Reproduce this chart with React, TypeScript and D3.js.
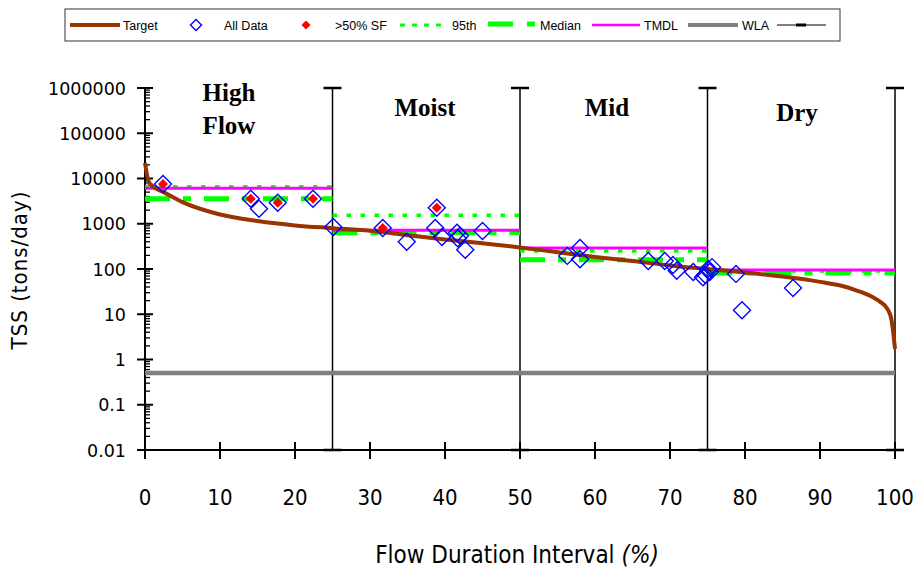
import React from "react";
import * as d3 from "d3";

const W = 913, H = 573;

const targetCurve: [number, number][] = [
  [0, 22000], [0.5, 8500], [1, 6800], [2.5, 5000], [5, 3000], [10, 1600], [15, 1150],
  [20, 920], [25, 800], [30, 700], [35, 560], [40, 450], [45, 370], [50, 300], [55, 235],
  [60, 185], [65, 150], [70, 120], [75, 100], [80, 84], [85, 68], [90, 52], [93, 42],
  [95, 33], [97, 24], [98, 19], [99, 13], [99.5, 8], [99.8, 3.5], [100, 1.7],
];

const zoneBounds = [0, 25, 50, 75, 100];
const zoneNames = [["High", "Flow"], ["Moist"], ["Mid"], ["Dry"]];
const tmdl = [6100, 720, 290, 95];
const p95 = [6600, 1550, 250, 90];
const median = [3550, 630, 160, 82];
const wla = 0.5;

const allData: [number, number][] = [
  [2.4, 7600], [14.1, 3550], [15.2, 2150], [17.7, 2900], [22.4, 3550], [25.1, 850],
  [31.7, 810], [34.9, 400], [38.9, 2250], [38.7, 810], [39.6, 510], [41.6, 630],
  [41.7, 480], [42.0, 540], [42.7, 265], [45.0, 690],
  [56.3, 195], [58.0, 290], [58.0, 165], [67.1, 150], [69.3, 150], [70.4, 123],
  [70.9, 92], [73.1, 86], [74.4, 66], [75.1, 100], [75.6, 110], [75.3, 86],
  [74.7, 75], [78.8, 78], [79.6, 12.3], [86.4, 38],
];
const sfData: [number, number][] = [
  [2.4, 7600], [14.1, 3550], [17.7, 2900], [22.4, 3550], [31.7, 810], [38.9, 2250],
];

const xTicks = [0, 10, 20, 30, 40, 50, 60, 70, 80, 90, 100];
const yTicks = [0.01, 0.1, 1, 10, 100, 1000, 10000, 100000, 1000000];

const legendItems = ["Target", "All Data", ">50% SF", "95th", "Median", "TMDL", "WLA"];

const x = d3.scaleLinear().domain([0, 100]).range([145, 895]);
const y = d3.scaleLog().domain([0.01, 1000000]).range([450, 88]);

const narrow = "'Liberation Sans Narrow', 'DejaVu Sans Condensed', 'Arial Narrow', sans-serif";
const tahoma = "'DejaVu Sans', Verdana, sans-serif";

function diamond(cx: number, cy: number, r: number) {
  return `M${cx},${cy - r}L${cx + r},${cy}L${cx},${cy + r}L${cx - r},${cy}Z`;
}

export default function App() {
  const line = d3.line<[number, number]>().x(d => x(d[0])).y(d => y(d[1])).curve(d3.curveMonotoneX);
  const minor: number[] = [];
  for (let e = -2; e < 6; e++) for (let k = 2; k <= 9; k++) minor.push(k * Math.pow(10, e));

  return (
    <svg width={W} height={H} style={{ position: "absolute", left: 0, top: 0, background: "#fff" }}>
      {/* Legend */}
      <rect x={65} y={9} width={775} height={32} fill="#fff" stroke="#333" strokeWidth={1} />
      <g fontFamily="'Liberation Sans', Arial, sans-serif" fontSize={12.5} fill="#000">
        <line x1={70} x2={120} y1={25} y2={25} stroke="#993300" strokeWidth={4} />
        <text x={123} y={29.5}>{legendItems[0]}</text>
        <path d={diamond(196, 25, 5.5)} fill="none" stroke="#0000FF" strokeWidth={1.4} />
        <text x={224} y={29.5}>{legendItems[1]}</text>
        <path d={diamond(306, 25, 4.5)} fill="#FF0000" />
        <text x={335} y={29.5}>{legendItems[2]}</text>
        <line x1={400} x2={447} y1={25} y2={25} stroke="#00FF00" strokeWidth={3} strokeDasharray="5 7" />
        <text x={452} y={29.5}>{legendItems[3]}</text>
        <line x1={488} x2={536} y1={24} y2={24} stroke="#00FF00" strokeWidth={5} strokeDasharray="25 14 8 13" />
        <text x={540} y={29.5}>{legendItems[4]}</text>
        <line x1={592} x2={640} y1={25} y2={25} stroke="#FF00FF" strokeWidth={2.5} />
        <text x={644} y={29.5}>{legendItems[5]}</text>
        <line x1={688} x2={738} y1={25} y2={25} stroke="#808080" strokeWidth={4} />
        <text x={742} y={29.5}>{legendItems[6]}</text>
        <line x1={777} x2={826} y1={25} y2={25} stroke="#000" strokeWidth={1.2} />
        <line x1={796} x2={806} y1={25} y2={25} stroke="#000" strokeWidth={3} />
      </g>

      {/* Y axis */}
      <line x1={145} x2={145} y1={88} y2={450} stroke="#000" strokeWidth={2} />
      {minor.map((v, i) => (
        <line key={i} x1={145} x2={150} y1={y(v)} y2={y(v)} stroke="#000" strokeWidth={1.3} />
      ))}
      {yTicks.map(v => (
        <g key={v}>
          <line x1={137} x2={153} y1={y(v)} y2={y(v)} stroke="#000" strokeWidth={2} />
          <text x={126} y={y(v) + 6.5} textAnchor="end" fontFamily={tahoma} fontSize={17.5}>
            {String(v)}
          </text>
        </g>
      ))}

      {/* X axis */}
      <line x1={140} x2={903} y1={450} y2={450} stroke="#000" strokeWidth={2} />
      {xTicks.map(v => (
        <g key={v}>
          <line x1={x(v)} x2={x(v)} y1={442} y2={459} stroke="#000" strokeWidth={2} />
          <text x={x(v)} y={505} textAnchor="middle" fontFamily={narrow} fontSize={22}>{v}</text>
        </g>
      ))}

      {/* Zone divider lines with caps */}
      {zoneBounds.slice(1).map(v => (
        <g key={v} stroke="#000">
          <line x1={x(v)} x2={x(v)} y1={88} y2={450} strokeWidth={1.5} />
          <line x1={x(v) - 9} x2={x(v) + 9} y1={88} y2={88} strokeWidth={2.5} />
          <line x1={x(v) - 9} x2={x(v) + 9} y1={450} y2={450} strokeWidth={2.5} />
        </g>
      ))}

      {/* WLA */}
      <line x1={x(0)} x2={x(100)} y1={y(wla)} y2={y(wla)} stroke="#808080" strokeWidth={4.5} />

      {/* Zone horizontal lines */}
      {tmdl.map((_, i) => {
        const x0 = x(zoneBounds[i]), x1 = x(zoneBounds[i + 1]);
        return (
          <g key={i}>
            <line x1={x0} x2={x1} y1={y(median[i])} y2={y(median[i])} stroke="#00FF00" strokeWidth={5} strokeDasharray="25 13 8 13" />
            <line x1={x0} x2={x1} y1={y(p95[i])} y2={y(p95[i])} stroke="#00FF00" strokeWidth={3.5} strokeDasharray="4.5 9.5" />
            <line x1={x0} x2={x1} y1={y(tmdl[i])} y2={y(tmdl[i])} stroke="#FF00FF" strokeWidth={3} />
          </g>
        );
      })}

      {/* Target curve */}
      <path d={line(targetCurve) || ""} fill="none" stroke="#993300" strokeWidth={4} />

      {/* Data points */}
      {allData.map((d, i) => (
        <path key={i} d={diamond(x(d[0]), y(d[1]), 8.5)} fill="none" stroke="#0000FF" strokeWidth={1.4} />
      ))}
      {sfData.map((d, i) => (
        <path key={i} d={diamond(x(d[0]), y(d[1]), 5)} fill="#FF0000" />
      ))}

      {/* Zone labels */}
      <g fontFamily="'Liberation Serif', 'Times New Roman', serif" fontWeight="bold" fontSize={25} textAnchor="middle">
        <text x={229} y={101}>{zoneNames[0][0]}</text>
        <text x={229} y={134}>{zoneNames[0][1]}</text>
        <text x={425} y={116}>{zoneNames[1][0]}</text>
        <text x={607} y={116}>{zoneNames[2][0]}</text>
        <text x={797} y={121}>{zoneNames[3][0]}</text>
      </g>

      {/* Axis titles */}
      <text x={517} y={563} textAnchor="middle" fontFamily={narrow} fontSize={24}>
        Flow Duration Interval <tspan fontStyle="italic">(%)</tspan>
      </text>
      <text transform="translate(27,270) rotate(-90)" textAnchor="middle" fontFamily={narrow} fontSize={22} letterSpacing={1}>
        TSS  (tons/day)
      </text>
    </svg>
  );
}
